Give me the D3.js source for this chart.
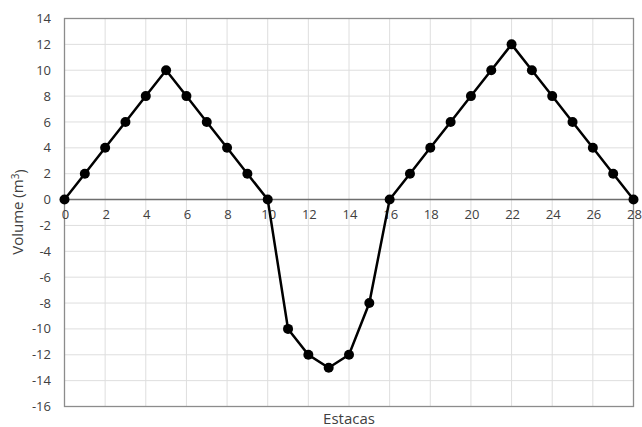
<!DOCTYPE html>
<html>
<head>
<meta charset="utf-8">
<script src="https://cdn.jsdelivr.net/npm/d3@7"></script>
<style>
  body { margin: 0; background: #fff; }
  text { font-family: "Open Sans", "Noto Sans", sans-serif; fill: #404040; }
</style>
</head>
<body>
<svg width="642" height="427"></svg>
<script>
// estacas (x) and volume (y)
var estacas = [0,1,2,3,4,5,6,7,8,9,10,11,12,13,14,15,16,17,18,19,20,21,22,23,24,25,26,27,28];
var volumes = [0,2,4,6,8,10,8,6,4,2,0,-10,-12,-13,-12,-8,0,2,4,6,8,10,12,10,8,6,4,2,0];
var xTicks = [0,2,4,6,8,10,12,14,16,18,20,22,24,26,28];
var yTicks = [-16,-14,-12,-10,-8,-6,-4,-2,0,2,4,6,8,10,12,14];

// plot box (note: "top" clashes with window.top)
var pLeft = 64.5, pRight = 633.5, pTop = 18.5, pBottom = 406.5;

const svg = d3.select('svg');
const x = d3.scaleLinear().domain([0, 28]).range([pLeft, pRight]);
const y = d3.scaleLinear().domain([-16, 14]).range([pBottom, pTop]);

// gridlines
svg.append('g')
  .selectAll('line')
  .data(yTicks)
  .enter().append('line')
  .attr('x1', pLeft).attr('x2', pRight)
  .attr('y1', d => y(d)).attr('y2', d => y(d))
  .style('stroke', '#dedede').style('stroke-width', 1);

svg.append('g')
  .selectAll('line')
  .data(xTicks)
  .enter().append('line')
  .attr('y1', pTop).attr('y2', pBottom)
  .attr('x1', d => x(d)).attr('x2', d => x(d))
  .style('stroke', '#dedede').style('stroke-width', 1);

// frame
svg.append('rect')
  .attr('x', pLeft).attr('y', pTop)
  .attr('width', pRight - pLeft).attr('height', pBottom - pTop)
  .style('fill', 'none').style('stroke', '#8c8c8c').style('stroke-width', 1.3);

// zero line
svg.append('line')
  .attr('x1', pLeft).attr('x2', pRight)
  .attr('y1', y(0)).attr('y2', y(0))
  .style('stroke', '#6e6e6e').style('stroke-width', 1.5);

// y tick labels
svg.append('g')
  .selectAll('text')
  .data(yTicks)
  .enter().append('text')
  .attr('x', 51)
  .attr('y', d => y(d))
  .attr('dy', '0.35em')
  .attr('text-anchor', 'end')
  .style('font-size', '13px')
  .text(d => d);

// x tick labels
svg.append('g')
  .selectAll('text')
  .data(xTicks)
  .enter().append('text')
  .attr('x', d => x(d) + 1)
  .attr('y', y(0) + 19)
  .attr('text-anchor', 'middle')
  .style('font-size', '13px')
  .text(d => d);

// axis titles
svg.append('text')
  .attr('x', (pLeft + pRight) / 2)
  .attr('y', 424)
  .attr('text-anchor', 'middle')
  .style('font-size', '15px')
  .text('Estacas');

const ylab = svg.append('text')
  .attr('transform', 'translate(23,' + 212 + ') rotate(-90)')
  .attr('text-anchor', 'middle')
  .style('font-size', '15px');
ylab.append('tspan').text('Volume (m');
ylab.append('tspan').attr('dy', '-0.45em').style('font-size', '10px').text('3');
ylab.append('tspan').attr('dy', '0.45em').text(')');

// series
var pts = estacas.map((e, i) => [e, volumes[i]]);
const line = d3.line().x(d => x(d[0])).y(d => y(d[1]));

svg.append('path')
  .datum(pts)
  .attr('d', line)
  .style('fill', 'none')
  .style('stroke', '#000')
  .style('stroke-width', 2.5);

svg.append('g')
  .selectAll('circle')
  .data(pts)
  .enter().append('circle')
  .attr('cx', d => x(d[0]))
  .attr('cy', d => y(d[1]))
  .attr('r', 5)
  .style('fill', '#000');
</script>
</body>
</html>
